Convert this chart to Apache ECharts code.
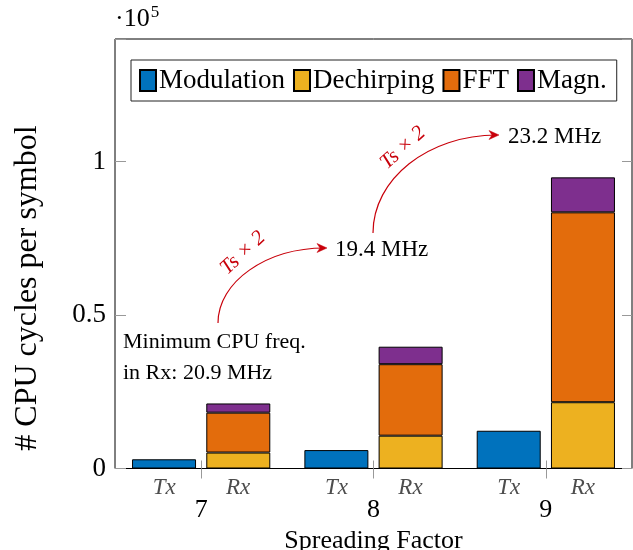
<!DOCTYPE html>
<html><head><meta charset="utf-8">
<script src="https://cdn.jsdelivr.net/npm/echarts@6/dist/echarts.min.js"></script>
<style>html,body{margin:0;padding:0;background:#fff}#c{width:633px;height:550px}</style>
</head><body><div id="c"></div>
<script>
// ---- data ----
const spreadingFactors = ['7', '8', '9'];
const subLabels = ['Tx', 'Rx'];
const seriesNames = ['Modulation', 'Dechirping', 'FFT', 'Magn.'];
const modulationTx = [3000, 6000, 12300];
const dechirpingRx = [5200, 10700, 21600];
const fftRx = [13000, 23300, 61900];
const magnRx = [3000, 5700, 11400];
const yTickValues = [0, 50000, 100000];
const yTickLabels = ['0', '0.5', '1'];
const yScaleLabel = '·10';
const yScaleExp = '5';
const noteLines = ['Minimum CPU freq.', 'in Rx: 20.9 MHz'];
const freqLabels = ['19.4 MHz', '23.2 MHz'];
const arrowLabel = 'Ts × 2';

const FONT = '"Liberation Serif", "DejaVu Serif", serif';
const colors = ['#0072bd', '#edb120', '#e36c0c', '#7e2f8e'];
const RED = '#c8000a';

const chart = echarts.init(document.getElementById('c'), null, {renderer: 'canvas'});

const barCommon = {
  type: 'bar', barWidth: 64, barGap: '16%',
  itemStyle: {borderColor: '#000', borderWidth: 1}
};

function arrow(x1, y1, c1x, c1y, c2x, c2y, x2, y2) {
  return [
    {type: 'bezierCurve', shape: {x1, y1, cpx1: c1x, cpy1: c1y, cpx2: c2x, cpy2: c2y, x2, y2: y2},
     style: {stroke: RED, lineWidth: 1.2, fill: null}},
    {type: 'polygon', shape: {points: [[x2 + 2, y2], [x2 - 8, y2 - 4.5], [x2 - 5, y2], [x2 - 8, y2 + 4.5]]},
     style: {fill: RED, stroke: RED, lineWidth: 0.5}}
  ];
}

const option = {
  animation: false,
  backgroundColor: '#fff',
  color: colors,
  grid: {left: 115, right: 1, top: 39, bottom: 81.5, outerBoundsMode: 'none', containLabel: false,
         show: true, borderColor: '#000', borderWidth: 1, backgroundColor: 'transparent'},
  legend: {
    left: 131, top: 60, orient: 'horizontal',
    data: seriesNames,
    icon: 'rect', itemWidth: 16, itemHeight: 21, itemGap: 8,
    borderColor: '#222', borderWidth: 1, padding: [7, 10, 7, 8],
    textStyle: {fontFamily: FONT, fontSize: 27, color: '#000', padding: [0, 0, 0, -2]}
  },
  xAxis: [{
    type: 'category', data: spreadingFactors, position: 'bottom',
    axisLine: {show: false},
    axisTick: {show: true, inside: true, alignWithLabel: true, length: 8, lineStyle: {color: '#999'}},
    axisLabel: {
      margin: 8,
      formatter: v => `{tx|${subLabels[0]}}{sp|}{rx|${subLabels[1]}}\n{n|${v}}`,
      rich: {
        tx: {width: 64, align: 'center', fontStyle: 'italic', color: '#4d4d4d', fontFamily: FONT, fontSize: 23, lineHeight: 22},
        rx: {width: 64, align: 'center', fontStyle: 'italic', color: '#4d4d4d', fontFamily: FONT, fontSize: 23, lineHeight: 22},
        sp: {width: 10},
        n: {width: 138, align: 'center', color: '#000', fontFamily: FONT, fontSize: 26, lineHeight: 23}
      }
    },
    name: 'Spreading Factor', nameLocation: 'middle', nameGap: 57,
    nameTextStyle: {fontFamily: FONT, fontSize: 26, color: '#000'},
    splitLine: {show: false}
  }, {
    type: 'category', data: spreadingFactors, position: 'top',
    axisLine: {show: false}, axisLabel: {show: false},
    axisTick: {show: true, inside: true, alignWithLabel: true, length: 10, lineStyle: {color: '#999'}}
  }],
  yAxis: [{
    type: 'value', min: 0, max: 140000, interval: 50000, position: 'left',
    axisLine: {show: false},
    axisTick: {show: true, inside: true, length: 11, lineStyle: {color: '#999'}},
    splitLine: {show: false},
    axisLabel: {
      margin: 9, fontFamily: FONT, fontSize: 27, color: '#000',
      formatter: v => { const i = yTickValues.indexOf(v); return i >= 0 ? yTickLabels[i] : ''; }
    },
    name: `{a|${yScaleLabel}}{b|${yScaleExp}}`, nameLocation: 'end', nameGap: 5,
    nameTextStyle: {
      align: 'left', verticalAlign: 'bottom',
      rich: {
        a: {fontFamily: FONT, fontSize: 26, color: '#000'},
        b: {fontFamily: FONT, fontSize: 17, color: '#000', padding: [0, 0, 13, 1]}
      }
    }
  }, {
    type: 'value', min: 0, max: 140000, interval: 50000, position: 'right',
    axisLine: {show: false}, axisLabel: {show: false}, splitLine: {show: false},
    axisTick: {show: true, inside: true, length: 10, lineStyle: {color: '#999'}}
  }],
  series: [
    Object.assign({}, barCommon, {name: seriesNames[0], stack: 'tx', data: modulationTx}),
    Object.assign({}, barCommon, {name: seriesNames[1], stack: 'rx', data: dechirpingRx}),
    Object.assign({}, barCommon, {name: seriesNames[2], stack: 'rx', data: fftRx}),
    Object.assign({}, barCommon, {name: seriesNames[3], stack: 'rx', data: magnRx})
  ],
  graphic: [
    {type: 'text', x: 28, y: 288, rotation: Math.PI / 2,
     style: {text: '# CPU cycles per symbol', fontFamily: FONT, fontSize: 32, fill: '#000', align: 'center', verticalAlign: 'middle'}},
    {type: 'text', x: 123, y: 342,
     style: {text: noteLines[0], fontFamily: FONT, fontSize: 22, fill: '#000', align: 'left', verticalAlign: 'middle'}},
    {type: 'text', x: 123, y: 373,
     style: {text: noteLines[1], fontFamily: FONT, fontSize: 22, fill: '#000', align: 'left', verticalAlign: 'middle'}},
    {type: 'text', x: 335, y: 250,
     style: {text: freqLabels[0], fontFamily: FONT, fontSize: 23, fill: '#000', align: 'left', verticalAlign: 'middle'}},
    {type: 'text', x: 508, y: 137,
     style: {text: freqLabels[1], fontFamily: FONT, fontSize: 23, fill: '#000', align: 'left', verticalAlign: 'middle'}},
    {type: 'text', x: 243, y: 253, rotation: 43 * Math.PI / 180,
     style: {text: arrowLabel, fontFamily: FONT, fontStyle: 'italic', fontSize: 21, fill: RED, align: 'center', verticalAlign: 'middle'}},
    {type: 'text', x: 403, y: 148, rotation: 42 * Math.PI / 180,
     style: {text: arrowLabel, fontFamily: FONT, fontStyle: 'italic', fontSize: 21, fill: RED, align: 'center', verticalAlign: 'middle'}},
    ...arrow(218, 323, 218, 282, 266, 248, 325, 248),
    ...arrow(373, 233, 373, 179, 428, 135, 497, 135)
  ]
};
chart.setOption(option);
</script>
</body></html>
